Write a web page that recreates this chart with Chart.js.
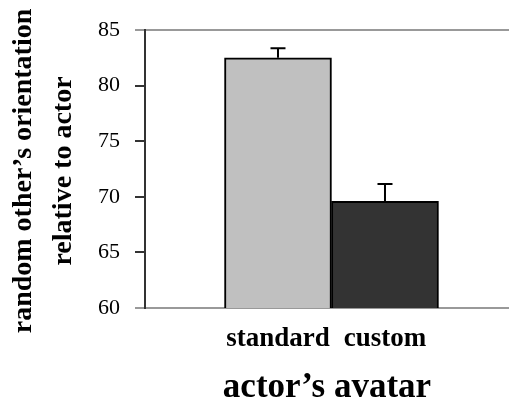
<!DOCTYPE html>
<html lang="en">
<head>
  <meta charset="UTF-8">
  <title>actor's avatar</title>
  <script src="https://cdn.jsdelivr.net/npm/chart.js"></script>
  <style>
    html, body { margin: 0; padding: 0; background: #fff; }
    .chart-box { width: 510px; height: 403px; }
  </style>
</head>
<body>
  <div class="chart-box">
    <canvas id="avatarChart"></canvas>
  </div>
  <script>
    // values
    const categories = ['standard', 'custom'];
    const means = [82.5, 69.6];
    const errors = [0.85, 1.55];
    const yTicks = [60, 65, 70, 75, 80, 85];
    const yTitleLines = ['random other\u2019s orientation', 'relative to actor'];
    const xTitle = 'actor\u2019s avatar';

    const barColors = ['#c0c0c0', '#333333'];
    const serif = "'Liberation Serif', 'Times New Roman', serif";

    // upper whisker with a cap on each bar
    const errorBars = {
      id: 'errorBars',
      afterDatasetsDraw(chart) {
        const ctx = chart.ctx;
        const y = chart.scales.y;
        const meta = chart.getDatasetMeta(0);
        ctx.save();
        ctx.strokeStyle = '#000';
        ctx.lineWidth = 2;
        meta.data.forEach((bar, i) => {
          const top = y.getPixelForValue(means[i] + errors[i]);
          ctx.beginPath();
          ctx.moveTo(bar.x, bar.y);
          ctx.lineTo(bar.x, top);
          ctx.moveTo(bar.x - 7.5, top);
          ctx.lineTo(bar.x + 7.5, top);
          ctx.stroke();
        });
        ctx.restore();
      }
    };

    // two-line rotated y title (wider than the plot, so drawn here)
    const yTitle = {
      id: 'yTitle',
      afterDraw(chart) {
        const ctx = chart.ctx;
        const area = chart.chartArea;
        ctx.save();
        ctx.translate(0, (area.top + area.bottom) / 2 + 2);
        ctx.rotate(-Math.PI / 2);
        ctx.fillStyle = '#000';
        ctx.font = 'bold 28px ' + serif;
        ctx.textAlign = 'center';
        ctx.textBaseline = 'middle';
        yTitleLines.forEach((line, i) => ctx.fillText(line, 0, 23.5 + i * 40));
        ctx.restore();
      }
    };

    new Chart(document.getElementById('avatarChart').getContext('2d'), {
      type: 'bar',
      data: {
        datasets: [{
          data: means.map((v, i) => ({ x: i, y: v })),
          backgroundColor: barColors,
          borderColor: '#000',
          borderWidth: 2,
          barPercentage: 1,
          categoryPercentage: 1
        }]
      },
      options: {
        responsive: true,
        maintainAspectRatio: false,
        animation: false,
        layout: { padding: { top: 30, right: 1, left: 0, bottom: 0 } },
        plugins: { legend: { display: false }, tooltip: { enabled: false } },
        scales: {
          x: {
            type: 'linear',
            offset: false,
            min: -1.243,
            max: 2.159,
            grid: { display: false, offset: false },
            border: { display: false },
            afterBuildTicks: (scale) => { scale.ticks = categories.map((c, i) => ({ value: i })); },
            afterFit: (scale) => { scale.height = 95; },
            ticks: {
              callback: (v) => categories[v] ?? '',
              color: '#000',
              padding: 7,
              maxRotation: 0,
              autoSkip: false,
              font: { family: serif, size: 27, weight: 'bold' }
            },
            title: {
              display: true,
              text: xTitle,
              color: '#000',
              font: { family: serif, size: 35, weight: 'bold', lineHeight: 0.8 },
              padding: { top: 0, bottom: 1 }
            }
          },
          y: {
            min: yTicks[0],
            max: yTicks[yTicks.length - 1],
            afterBuildTicks: (scale) => { scale.ticks = yTicks.map(v => ({ value: v })); },
            afterFit: (scale) => { scale.width = 145; },
            border: { display: true, color: '#333', width: 2 },
            grid: {
              drawOnChartArea: true,
              tickLength: 10,
              lineWidth: 2,
              color: (c) => (c.tick && (c.tick.value === 60 || c.tick.value === 85)) ? '#999' : 'rgba(0,0,0,0)',
              tickColor: (c) => (c.tick && (c.tick.value === 60 || c.tick.value === 85)) ? '#999' : '#333',
              tickWidth: 2
            },
            ticks: {
              color: '#000',
              padding: 15,
              font: { family: serif, size: 22 }
            }
          }
        }
      },
      plugins: [errorBars, yTitle]
    });
  </script>
</body>
</html>
